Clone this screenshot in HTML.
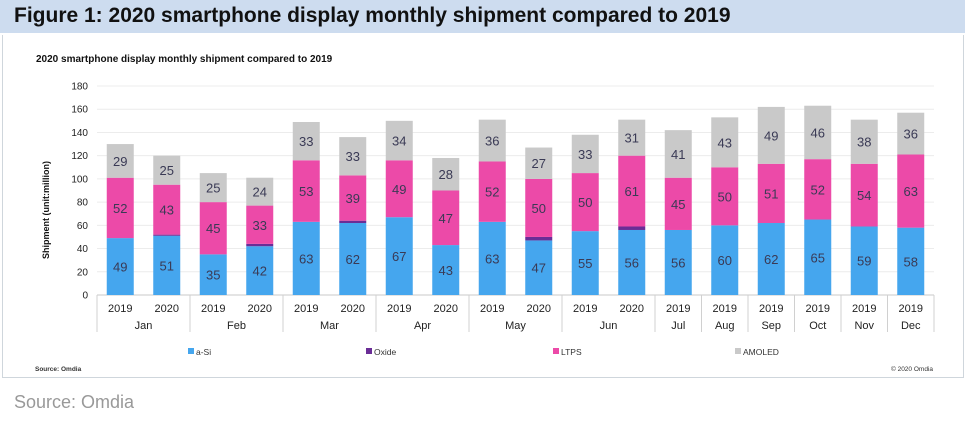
<!DOCTYPE html>
<html><head><meta charset="utf-8"><style>
body{margin:0;width:965px;height:424px;background:#fff;overflow:hidden;font-family:"Liberation Sans",sans-serif}
#hdr{position:absolute;left:0;top:0;width:965px;height:33px;background:#cddcef}
#hdr span{position:absolute;left:14px;top:4px;font-size:21px;font-weight:bold;color:#111}
#box{position:absolute;left:2px;top:35px;width:960px;height:342px;border:1px solid #cfd6dc;border-top:none}
#src{position:absolute;left:14px;top:392px;font-size:18px;color:#999}
</style></head><body>
<div id="hdr"><span>Figure 1: 2020 smartphone display monthly shipment compared to 2019</span></div>
<div id="box"></div>
<svg id="chart" width="965" height="424" style="position:absolute;left:0;top:0" font-family="Liberation Sans, sans-serif"></svg>
<div id="src">Source: Omdia</div>
<script>
const years=["2019","2020","2019","2020","2019","2020","2019","2020","2019","2020","2019","2020","2019","2019","2019","2019","2019","2019"];
const months=["Jan","Feb","Mar","Apr","May","Jun","Jul","Aug","Sep","Oct","Nov","Dec"];
const monthSpans=[2,2,2,2,2,2,1,1,1,1,1,1];
const aSi=[49,51,35,42,63,62,67,43,63,47,55,56,56,60,62,65,59,58];
const oxide=[0,1,0,2,0,2,0,0,0,3,0,3,0,0,0,0,0,0];
const ltps=[52,43,45,33,53,39,49,47,52,50,50,61,45,50,51,52,54,63];
const amoled=[29,25,25,24,33,33,34,28,36,27,33,31,41,43,49,46,38,36];
const yTicks=[0,20,40,60,80,100,120,140,160,180];
const series=[{n:"a-Si",v:aSi,c:"#45a6ee",lbl:true},{n:"Oxide",v:oxide,c:"#6a2d96",lbl:false},{n:"LTPS",v:ltps,c:"#ec4aa8",lbl:true},{n:"AMOLED",v:amoled,c:"#c9c9c9",lbl:true}];
const X0=97,X1=934,Y0=295,Y1=86,YMAX=180;
const cw=(X1-X0)/years.length;
const y=v=>Y0-(v/YMAX)*(Y0-Y1);
const xc=i=>X0+cw*(i+0.5);
const svg=document.getElementById('chart');
const NS="http://www.w3.org/2000/svg";
function mk(t,a,txt){const e=document.createElementNS(NS,t);for(const k in a)e.setAttribute(k,a[k]);if(txt!==undefined)e.textContent=txt;svg.appendChild(e);return e;}
let e=mk('text',{x:36,y:62,'font-size':10,'font-weight':'bold',fill:'#111'},"2020 smartphone display monthly shipment compared to 2019");


yTicks.forEach(t=>{
 let g=mk('line',{x1:X0,x2:X1,y1:y(t),y2:y(t),stroke:t?'#ececec':'#c8c8c8','stroke-width':1});
 
 
 let l=mk('text',{x:88,y:y(t)+3.5,'font-size':10,fill:'#222','text-anchor':'end'},t);
 
 
});
e=mk('text',{x:0,y:0,'font-size':9,'font-weight':'bold',fill:'#111','text-anchor':'middle',transform:'translate(49,210) rotate(-90)'},"Shipment (unit:million)");


const bw=27;
years.forEach((yr,i)=>{
 let base=0;
 series.forEach(s=>{
  const v=s.v[i];if(!v){return;}
  const r=mk('rect',{x:xc(i)-bw/2,y:y(base+v),width:bw,height:y(base)-y(base+v),fill:s.c});
  
  
  if(s.lbl){
   const t=mk('text',{x:xc(i),y:(y(base)+y(base+v))/2+5,'font-size':13,fill:'#3a3a55','text-anchor':'middle'},v);
   
   
  }
  base+=v;
 });
 const yl=mk('text',{x:xc(i),y:312,'font-size':11,fill:'#222','text-anchor':'middle'},yr);
 
 
});
let idx=0;
mk('line',{x1:X0,x2:X0,y1:Y0,y2:332,stroke:'#d0d0d0'});
months.forEach((m,k)=>{
 const s=idx,n=monthSpans[k];idx+=n;
 const xe=X0+cw*idx;
 const ln=mk('line',{x1:xe,x2:xe,y1:Y0,y2:332,stroke:'#d0d0d0'});
 
 
 const t=mk('text',{x:X0+cw*(s+n/2),y:329,'font-size':11,fill:'#222','text-anchor':'middle'},m);
 
 
});
const legX=[188,366,553,735];
series.forEach((s,k)=>{
 const r=mk('rect',{x:legX[k],y:348,width:6,height:6,fill:s.c});
 
 
 const t=mk('text',{x:legX[k]+8,y:355,'font-size':8.5,fill:'#333'},s.n);
 
 
});
e=mk('text',{x:35,y:371,'font-size':6.5,'font-weight':'bold',fill:'#333'},"Source: Omdia");


e=mk('text',{x:933,y:371,'font-size':6.5,fill:'#333','text-anchor':'end'},"© 2020 Omdia");


</script>
</body></html>
